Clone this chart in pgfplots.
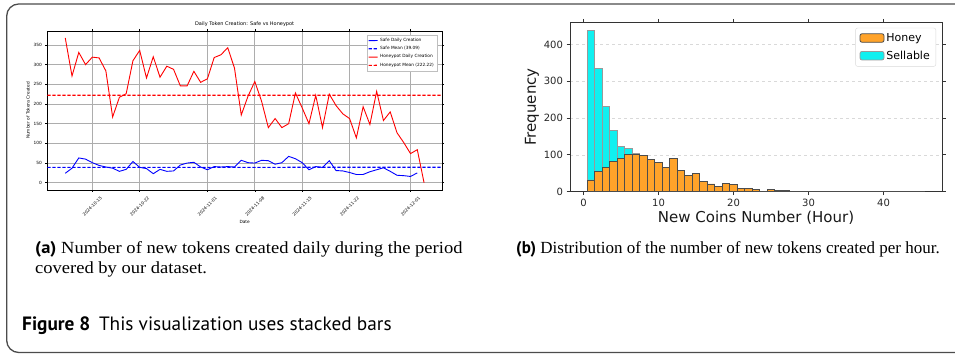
\documentclass[border=0pt]{standalone}
\usepackage{pgfplots}
\pgfplotsset{compat=1.18}
\usepackage{fontspec}
\usepackage{graphicx}
\setmainfont{DejaVu Sans}
\newfontfamily\serifcap{Liberation Serif}
\newfontfamily\sanscap{PT Sans}
\definecolor{honey}{RGB}{255,163,42}
\definecolor{sell}{RGB}{16,240,240}
\definecolor{pblue}{RGB}{0,0,255}
\definecolor{pred}{RGB}{255,0,0}
\begin{document}
\begin{tikzpicture}[x=1pt,y=1pt]
\useasboundingbox (0,0) rectangle (955,355);
\draw[line width=1.3pt, color=black!70, rounded corners=12pt] (6.7,2.5) rectangle (985,351);
% ---------------- left chart
\begin{axis}[at={(47.3pt,165pt)}, anchor=south west, scale only axis,
  width=394.7pt, height=159pt,
  xmin=-6.65, xmax=51.65, ymin=-18.4, ymax=385.4,
  xtick={0,7,17,24,31,38,47},
  xticklabels={\rotatebox{45}{2024-10-15},\rotatebox{45}{2024-10-22},\rotatebox{45}{2024-11-01},\rotatebox{45}{2024-11-08},\rotatebox{45}{2024-11-15},\rotatebox{45}{2024-11-22},\rotatebox{45}{2024-12-01}},
  xticklabel style={anchor=north, font=\fontsize{4.3}{5}\selectfont, yshift=-1pt},
  ytick={0,50,...,350},
  yticklabel style={font=\fontsize{4.3}{5}\selectfont},
  /pgf/number format/assume math mode=true,
  grid=major, grid style={black!32, line width=0.7pt},
  axis line style={black, line width=0.9pt},
  tick style={black, line width=0.5pt}, tick align=outside, major tick length=2pt,
  title={Daily Token Creation: Safe vs Honeypot},
  title style={font=\fontsize{5}{6}\selectfont, yshift=-5pt},
  xlabel={Date}, xlabel style={font=\fontsize{4.3}{5}\selectfont, yshift=3pt},
  ylabel={Number of Tokens Created}, ylabel style={font=\fontsize{4.3}{5}\selectfont, yshift=-3pt},
  legend style={at={(1,1)}, anchor=north east, xshift=-5pt, yshift=-4pt,
    font=\fontsize{4.3}{5.2}\selectfont, draw=black!25, inner sep=1pt,
    row sep=-0.5pt, cells={anchor=west}},
  legend image code/.code={\draw[#1] (0pt,0pt) -- (9pt,0.03pt);},
]
\addplot[color=pblue, draw=pblue, line width=0.9pt] coordinates {
(-4,24) (-3,37) (-2,63) (-1,60) (0,51) (1,44) (2,40) (3,37) (4,29) (5,34)
(6,54) (7,39) (8,36) (9,23) (10,34) (11,29) (12,30) (13,45) (14,50) (15,52)
(16,40) (17,33) (18,41) (19,40) (20,41) (21,40) (22,57) (23,51) (24,50) (25,57)
(26,56) (27,47) (28,51) (29,67) (30,61) (31,51) (32,33) (33,41) (34,39) (35,56)
(36,31) (37,30) (38,26) (39,21) (40,21) (41,28) (42,33) (43,38) (44,29) (45,19)
(46,18) (47,16) (48,25)};
\addlegendentry{Safe Daily Creation}
\addplot[color=pblue, draw=pblue, dash pattern=on 3.4pt off 1.6pt, line width=1.2pt] coordinates {(-6.65,39.09) (51.65,39.12)};
\addlegendentry{Safe Mean (39.09)}
\addplot[color=pred, draw=pred, line width=0.9pt] coordinates {
(-4,368) (-3,271) (-2,331) (-1,300) (0,319) (1,317) (2,284) (3,167) (4,217) (5,226)
(6,310) (7,336) (8,266) (9,320) (10,268) (11,296) (12,288) (13,246) (14,246) (15,283)
(16,255) (17,264) (18,318) (19,325) (20,343) (21,291) (22,172) (23,220) (24,257) (25,207)
(26,140) (27,163) (28,140) (29,150) (30,228) (31,190) (32,150) (33,222) (34,140) (35,225)
(36,196) (37,175) (38,163) (39,114) (40,193) (41,148) (42,232) (43,158) (44,180) (45,127)
(46,102) (47,74) (48,84) (49,0)};
\addlegendentry{Honeypot Daily Creation}
\addplot[color=pred, draw=pred, dash pattern=on 3.4pt off 1.6pt, line width=1.2pt] coordinates {(-6.65,222.22) (51.65,222.25)};
\addlegendentry{Honeypot Mean (222.22)}
\end{axis}
% ---------------- right chart
\begin{axis}[at={(570pt,163.3pt)}, anchor=south west, scale only axis,
  width=372pt, height=169.4pt,
  xmin=-1.8, xmax=47.8, ymin=0, ymax=460,
  xtick={0,10,20,30,40}, ytick={0,100,200,300,400},
  ticklabel style={font=\fontsize{10}{12}\selectfont, text=black!85},
  /pgf/number format/assume math mode=true,
  ymajorgrids, grid style={dashed, black!15, line width=0.5pt},
  axis line style={black!80, line width=1pt},
  tick style={black!80, line width=0.8pt}, tick align=outside, major tick length=3.5pt,
  xlabel={New Coins Number (Hour)}, xlabel style={font=\fontsize{15}{16}\selectfont, text=black!90, yshift=2pt},
  ylabel={Frequency}, ylabel style={font=\fontsize{15}{16}\selectfont, text=black!90, yshift=-2pt},
  legend style={at={(1,1)}, anchor=north east, xshift=-6pt, yshift=-5.5pt,
    font=\fontsize{11}{13}\selectfont, draw=black!15, rounded corners=2pt,
    inner xsep=4pt, inner ysep=3.5pt, row sep=4pt, cells={anchor=west}},
  legend image code/.code={\draw[#1] (0pt,-4pt) rectangle (24pt,4.5pt);},
  legend cell align=left,
]
\addplot[ybar, bar width=1, bar shift=0pt, fill=sell, draw=black!40, line width=0.8pt, forget plot] coordinates {
(1,437) (2,335) (3,232) (4,167) (5,124) (6,118) (7,104) (8,98)};
\addplot[ybar, bar width=1, bar shift=0pt, fill=honey, draw=black!70, line width=0.8pt] coordinates {
(1,32) (2,56) (3,66) (4,83) (5,91) (6,100) (7,100) (8,98) (9,88) (10,80)
(11,67) (12,90) (13,58) (14,43) (15,50) (16,28) (17,21) (18,15) (19,23) (20,20)
(21,9) (22,9) (23,6) (24,1) (25,6) (26,3) (27,3) (28,1) (29,1) (30,0.5)
(31,0.5) (32,0.5) (33,0.5) (34,0.5) (35,0.5) (36,0.5) (37,0.5) (38,0.5) (39,0.5) (40,0.5)
(41,0.5) (42,0.5) (43,0.5) (44,0.5) (45,0.5)};
\addlegendentry{Honey}
\addlegendimage{fill=sell, draw=black!40, line width=0.8pt}
\addlegendentry{Sellable}
\end{axis}
% ---------------- captions
\node[anchor=base west, inner sep=0pt, font=\serifcap\fontsize{17}{20}\selectfont] at (35,101)
  {\scalebox{1.09}[1]{{\sanscap\bfseries (a)} Number of new tokens created daily during the period}};
\node[anchor=base west, inner sep=0pt, font=\serifcap\fontsize{17}{20}\selectfont] at (35,81)
  {\scalebox{1.09}[1]{covered by our dataset.}};
\node[anchor=base west, inner sep=0pt, font=\serifcap\fontsize{17}{20}\selectfont] at (516,101)
  {{\sanscap\bfseries (b)} Distribution of the number of new tokens created per hour.};
\node[anchor=base west, inner sep=0pt, font=\sanscap\fontsize{19.3}{22}\selectfont] at (22,24)
  {{\bfseries Figure 8}\hspace{0.45em}This visualization uses stacked bars};
\end{tikzpicture}
\end{document}
